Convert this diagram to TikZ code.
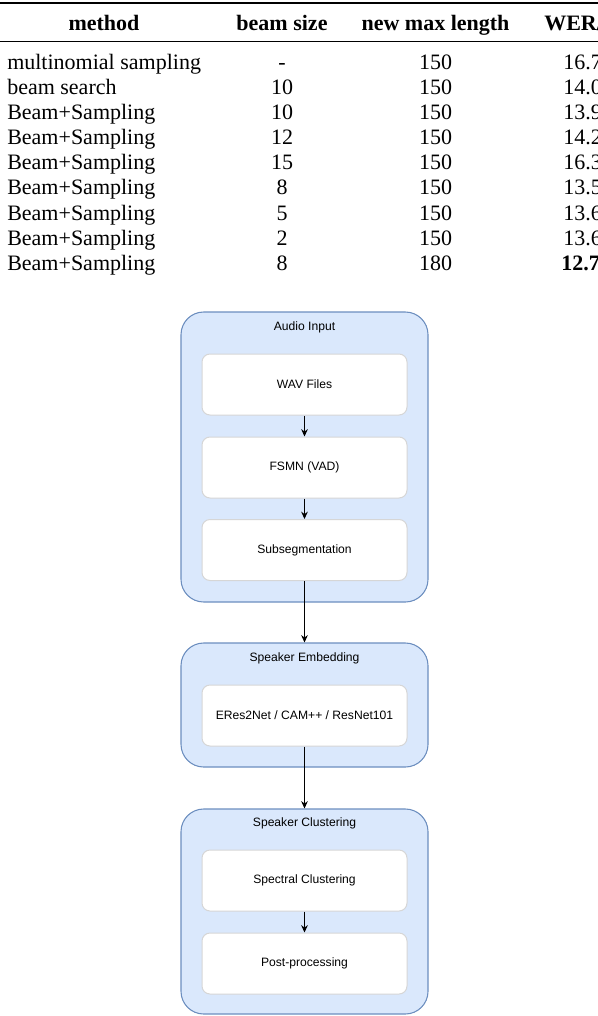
\documentclass[tikz,border=0pt]{standalone}
\usepackage{fontspec}
\setmainfont{Liberation Serif}
\newfontfamily\diagfont{Liberation Sans}
\usetikzlibrary{arrows.meta}
\definecolor{grpfill}{HTML}{DAE8FC}
\definecolor{grpdraw}{HTML}{6C8EBF}
\definecolor{stepdraw}{HTML}{D6D6D6}
\tikzset{
  cell/.style={anchor=base, inner sep=0pt, font=\fontsize{16.5}{18}\selectfont},
  hcell/.style={cell, font=\fontsize{16.5}{18}\selectfont\bfseries},
  lcell/.style={cell, anchor=base west},
  group/.style={draw=grpdraw, fill=grpfill, line width=0.8pt, rounded corners=17pt,
    minimum width=185.25pt, inner sep=0pt},
  stepbox/.style={draw=stepdraw, fill=white, line width=0.75pt, rounded corners=6pt,
    minimum width=153.75pt, minimum height=45.75pt, inner sep=0pt,
    font=\diagfont\fontsize{9.1}{10}\selectfont},
  gtitle/.style={font=\diagfont\fontsize{9.1}{10}\selectfont, inner sep=0pt},
  flow/.style={-{Stealth[length=5.5pt,width=5pt]}, line width=0.9pt, black}
}
\begin{document}
\begin{tikzpicture}[x=0.75pt,y=-0.75pt]
\useasboundingbox (0,0) rectangle (598,1016);
\clip (0,0) rectangle (598,1016);
% table rules
\draw[line width=1.5pt] (0,3.5) -- (598,3.5);
\draw[line width=1pt] (0,41.7) -- (598,41.7);
% header
\node[hcell] (h1) at (104,31) {method};
\node[hcell] (h2) at (282,31) {beam size};
\node[hcell] (h3) at (435.5,31) {new max length};
\node[hcell, anchor=base west] (h4) at (544,31) {WER/CER};
% rows
\foreach \m/\b/\l/\w [count=\i from 0] in {
  multinomial sampling/-/150/16.7,
  beam search/10/150/14.0,
  Beam+Sampling/10/150/13.9,
  Beam+Sampling/12/150/14.2,
  Beam+Sampling/15/150/16.3,
  Beam+Sampling/8/150/13.5,
  Beam+Sampling/5/150/13.6,
  Beam+Sampling/2/150/13.6}{
  \node[lcell] (m\i) at (7,70+25*\i) {\m};
  \node[cell] (b\i) at (282,70+25*\i) {\b};
  \node[cell] (l\i) at (435.5,70+25*\i) {\l};
  \node[lcell] (w\i) at (563,70+25*\i) {\w};
}
\node[lcell] (m8) at (7,270) {Beam+Sampling};
\node[cell] (b8) at (282,270) {8};
\node[cell] (l8) at (435.5,270) {180};
\node[lcell, font=\fontsize{16.5}{18}\selectfont\bfseries] (w8) at (561,270) {12.7};

% diagram groups
\node[group, minimum height=217.5pt] (g1) at (304.5,457) {};
\node[group, minimum height=93pt] (g2) at (304.5,705) {};
\node[group, minimum height=153.75pt] (g3) at (304.5,911.5) {};
\node[gtitle] (t1) at (304.5,327) {Audio Input};
\node[gtitle] (t2) at (304.5,658) {Speaker Embedding};
\node[gtitle] (t3) at (304.5,823) {Speaker Clustering};
% steps
\node[stepbox] (wav) at (304.5,384.5) {WAV Files};
\node[stepbox] (vad) at (304.5,467.5) {FSMN (VAD)};
\node[stepbox] (sub) at (304.5,550) {Subsegmentation};
\node[stepbox] (emb) at (304.5,715.5) {ERes2Net / CAM++ / ResNet101};
\node[stepbox] (spc) at (304.5,880.5) {Spectral Clustering};
\node[stepbox] (post) at (304.5,963.5) {Post-processing};
% connectors
\draw[flow] (wav) -- (vad);
\draw[flow] (vad) -- (sub);
\draw[flow] (sub) -- (g2);
\draw[flow] (emb) -- (g3);
\draw[flow] (spc) -- (post);
\end{tikzpicture}
\end{document}
